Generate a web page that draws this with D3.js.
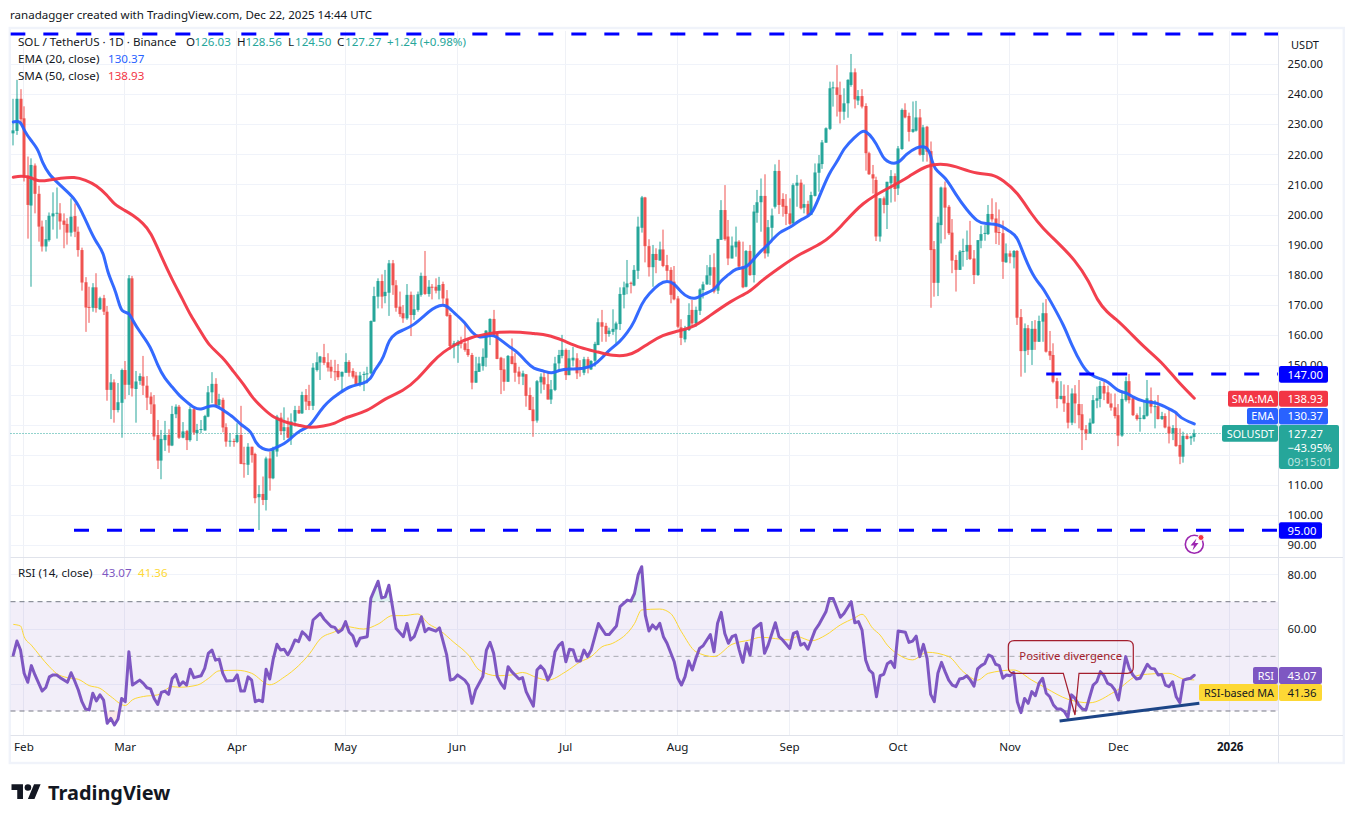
<!DOCTYPE html>
<html><head><meta charset="utf-8">
<script src="https://cdn.jsdelivr.net/npm/d3@7"></script>
<style>
html,body{margin:0;padding:0;background:#fff}
svg{display:block;position:absolute;left:0;top:0}
text{font-family:"Noto Sans",sans-serif;font-size:11.6px;fill:#131722}
</style></head><body>
<svg id="c" width="1354" height="823"></svg>
<script>
const firstDay = "2025-01-29";
const opens = [
227,227.8,238.5,232,213,203,216.3,206.9,196,189.4,
191.5,199.4,200.4,200.4,198,196.9,194,199.5,194.3,188.2,
177.5,169.3,169,175.8,168.5,172.2,167.7,141.7,144.2,135,
137.4,148.3,143.4,178.8,142,144.7,146.1,143.1,139.5,136.9,
126.7,118.2,125,126.7,123.2,133.6,136.1,125.8,128,125,
135.3,127.3,128.4,128.2,132.8,140.9,143.7,136.6,138.4,129.3,
124.6,124.7,124.4,126.7,117.3,116.8,122.8,120.4,106,107.1,
105.1,118.9,112.3,121.2,132.5,128,129.3,125.8,131.2,135,
133.9,140,138,136.4,148.3,150.8,152.6,150.9,149.4,147.9,
148,146.1,147.4,151,148,146.5,143.6,146.8,147,147.2,
164.4,172.7,177.9,172.9,174,183.8,176.5,169.4,167.2,165.5,
173.3,166.6,168.3,173.3,179.6,173.6,176,176,174.7,176.9,
172.1,166.6,156.4,156.4,157.4,157.2,155.3,153.3,144.1,147.7,
149.6,152.4,160.5,165.3,160.5,152.4,148.5,144.4,152.9,150.7,
147.8,146.1,146.9,140,135.2,131.5,144.2,145.9,143.6,138.5,
141.7,150.5,153,155,146.6,151.5,152.2,149.2,147.4,151.9,
148.5,151.4,156.6,164.2,163,160.3,161,161.8,163.6,173.3,
175.8,177.3,176.4,181.3,195.6,205.7,189.5,182.5,186.9,184.7,
188.4,183.2,181.6,177.7,172.1,162.5,158.5,161.6,168.3,163.8,
168,174.9,176.8,179.7,182.5,174.7,191.6,201.5,192.7,185.4,
189.1,191,182.7,176,187.9,179.9,200.6,204.1,206.2,187.1,
195.6,202.6,214.5,205.2,202.9,200.4,197.1,209.6,210.6,202.3,
203.5,199.9,206.2,213.9,216.8,223.9,228.5,242.1,242.3,239.8,
234.2,237,243.1,247.3,237.9,239.4,236.1,220.4,213.4,211.5,
192.7,205.4,203.2,210.4,212.8,208.7,221.8,234.8,232.8,227.5,
227.9,232.3,219.8,229.2,221.1,188.5,177.3,196.5,209,202.6,
194,184.9,181.6,187.7,187.7,189.9,185.4,179.9,191.3,193.6,
193.5,200.2,198.7,194.2,193.8,184.1,187.1,185.8,187.9,165.9,
154.6,162.2,155,162,157.7,164.4,167.2,154.6,153.3,144.6,
138.7,139.7,137.4,130.8,140.5,137,133.6,128.6,127.2,130.6,
138.1,138.7,143,140.9,137.2,135.9,133.3,126.5,138.3,144.6,
138.9,133.3,132.3,132,133.1,138.3,136.1,136.3,132,133,
129.5,127.2,129,123.4,119.5,126.4,125.6,126.03];
const closes = [
228,238.5,231.7,212.6,203.2,216.5,206.9,196,189.4,191.8,
199.6,200.4,200.6,197.7,196.6,194,199.3,194.3,188.2,177.4,
169.1,169,175.8,168.9,172.2,167.7,141.7,144.2,135,137.6,
148.3,143.4,178.8,142.2,144.5,146.3,143.1,139.1,136.9,126.2,
118.2,125.4,126.7,123.2,133.7,136.1,125.8,127.9,125,135.3,
127.5,128.4,128.7,133,140.9,143.7,136.4,138.6,129.2,124.5,
124.8,124.5,126.7,117.1,117,122.8,120,105.7,107.1,105.1,
118.9,112.3,121.7,132.8,128,129.3,125.8,131.2,135,133.9,
140,137.8,136.4,149.1,150.9,152.8,150.7,149.1,147.8,147.7,
145.9,147.7,151,147.4,146.1,143.6,146.5,147,147.2,164.6,
172.9,177.9,172.7,174.3,183.8,176.5,169,166.9,165.5,173.3,
166.6,168.5,173.5,179.6,173.6,176,175.8,174.7,176.6,172.1,
166.3,156.3,157.2,157.7,157,155,153.3,144.1,148,150.5,
152.7,161.4,165.3,160,152,148.3,144.4,153,150.3,147.4,
146.1,147.2,139.7,135,131.3,144.6,146.1,143.5,138.5,141.9,
150.5,153.3,155,146.6,152.2,152.4,147.2,148.9,151.9,148.9,
151.3,157,164.2,162.7,160.3,161.4,162,163.8,173.6,175.8,
177.1,177,181.6,196,205.7,189.5,182.5,186.9,184.9,188.4,
182.9,181.3,173.3,171.8,162.7,159,162,166.6,163.8,168.3,
175.1,176.8,179.8,182.5,174.4,191.9,201.5,191.8,185.4,189.7,
191,182.7,175.8,187.9,179.9,201,204.1,206.2,187.1,195.8,
199.7,214.5,203.2,202.6,200.2,196.9,209.8,210.6,202.1,203.5,
199.9,206.5,214,217,224,228.7,242,242.3,239.8,234.2,
237,244.8,247.3,238.3,239.4,235.9,220.4,213.4,212,192.7,
205.4,203.2,210.9,212.8,208.5,222,234.8,232.3,227.5,228.4,
232.3,219.9,229,220.9,188.2,177.3,197.3,209,202.3,193.8,
184.7,181.6,187.7,187.9,189.9,185.2,179.9,191.5,193.5,193.9,
200.2,198.4,194,194,184.3,187.1,186,187.9,165.7,154.6,
162.2,155,162,157.7,164.6,167.2,154.4,153.1,144.4,138.7,
139.7,137.2,130.8,140.5,137.2,133.3,128.3,127.2,130.8,138.3,
138.9,143,140.5,137.2,135.8,133,126.5,138.7,144.6,138.3,
133.3,132,132.4,133.3,138.9,136.1,136.3,132,133,129.2,
127.2,129,123,119.5,126.4,125.4,126.2,127.27];
const highs = [
238.5,244.8,241.7,236,219.3,218.7,217,209.6,198,198.2,
200.7,207.4,209,203.8,200.4,198.8,205.4,203.7,196,189,
179.2,176,177.2,180.5,172.7,173.3,169.6,147,145.2,144,
148.8,151.3,179.9,179.6,148,147.2,153,146.3,140.9,140,
131.7,128.4,131.4,128.6,136.4,136.9,136.7,131,128.4,136.2,
135.9,130.4,131.7,133.4,143,147.6,145.6,140.4,139.1,130.6,
127.3,125.5,130.6,136.4,122.8,124,122.8,120.8,110,112.9,
119.5,121.2,122.8,133.4,134.1,135.9,132.5,133.9,136.4,136.4,
141.1,142,143.4,150.6,154.2,153,157,153.9,151.7,151.7,
150.3,147.8,153.9,151.6,148.9,147.7,147.7,147.8,149.4,164.8,
176,178.8,180.1,181.6,184.9,184.9,178.2,174.4,169.9,176.9,
174.4,173.3,174.4,180.7,187.9,178.2,176.9,178.8,179.3,177.7,
174.9,167.2,158,158.3,159.4,163.6,158.8,154,152.7,152.7,
155.5,161.6,165.5,168.3,161,152.7,152.2,153.3,158.8,153.9,
149.4,148.1,147,142.5,139.4,145,147.2,148.1,147.7,145,
152.7,155,160,155.5,155,156,153.9,151.6,152.7,152.7,
151.6,157.7,165.5,168.3,164,162.4,168.5,164.4,175.8,177.7,
184.9,177.7,183.2,199.3,206.2,205.9,191.8,189.9,188.8,191,
195,186.6,182.5,182.9,172.9,165.2,163,170.5,171.6,169.4,
175.5,177.7,183.2,186.6,187.1,191.9,204.8,209.8,198.2,192.7,
196,191.5,191,188.2,189.9,203.2,208.2,212,213.4,198.2,
202,216.7,218.2,207.1,206.8,205.4,210.4,213.2,211.7,210,
204.6,207.6,217,219.8,224.8,229,244.2,244.2,249.7,244.2,
242,245,253.4,248.6,241.4,241.7,237,220.9,216.5,212.6,
205.4,206,210.9,214.8,213.7,222.8,235.3,237,233.9,237.6,
237.8,235.1,229.8,229.5,224.3,191.2,199.3,209.3,211,203.2,
198.5,186.6,188.2,192,194.7,197.9,188.2,191.5,196.3,196.5,
203.2,205.4,204.1,201.7,198,190.4,188,188.2,188.2,168.6,
163.8,163.3,164.6,164.9,166.4,170.7,171.9,161.3,157.2,145.7,
144.6,143.5,143.3,142.2,143.3,145,137,130,132.2,140,
142.8,144.6,144.4,143.1,140.5,140.5,137,141.4,146.1,147,
139.4,133.9,136.1,138.3,145,142.5,138.3,140,134.4,133.9,
135.3,130,133.9,128.9,127.8,127,126.5,128.56];
const lows = [
223,226.5,230.4,211,192,176,200.4,191,187.7,187.7,
191,195,192,195,188.8,190,192.7,192.5,186,174.7,
161,164,167.7,167.4,168.3,166.6,138.1,132,130.8,134.2,
125.8,138.6,140,139.5,130.8,143.4,140,135,133.7,125,
115.4,112,121.4,120.8,123,132.3,125.4,125.6,121.7,124.5,
126.7,124.7,127.3,128.2,132.6,137.3,135.9,135.9,127.6,122.8,
122.8,122.8,124,117,112.5,113.4,117.5,104,95.1,103.4,
101.6,108.2,112,119.5,126.7,125,125.6,123.4,129.5,133.7,
133.7,135,135,135,147.8,145,150,147.8,145.6,144.7,
145,141.1,147.4,146.1,145.5,143.3,142.8,141.3,143.9,146.9,
164.4,168.8,168.8,170.5,166.3,173.3,167.7,166,164,165,
159.6,165,167.7,172.7,173.3,172.7,171.8,173.8,171.8,170,
166,155,152.2,150.7,155.5,154.4,152.7,141.9,144.1,147.7,
148.1,149.4,156.6,159.4,151.9,140.3,141.4,144.4,150.2,144.4,
143.6,143.3,136.1,135,126.1,130.8,140.5,141.7,138.5,137,
141.3,147.7,152.2,145,146.6,149.5,145.3,146.1,146.6,147.2,
148.3,149.4,156.6,157.7,157.7,159.4,160,157.2,161.6,168.8,
173.5,173.8,176.2,178.6,194,184.1,179.4,176,180.5,184.7,
182.5,178.2,170.5,171.5,162.2,156.6,157.5,161.3,162.7,162.7,
166.6,172.1,176.6,176.6,173.8,173.6,191.6,191.3,183.2,185.4,
186,181.6,175.5,175.8,179.6,177.4,197.3,194.3,185.4,186,
191.5,202,200.2,199.3,196.5,196.5,196.9,202.6,201.7,200.4,
199.5,199.9,206,207.6,215.2,223.9,228.1,235.9,232.6,230.3,
231.5,232.2,242.5,235.3,236.4,235.3,214.6,213.2,207,191.2,
191,200.4,195.2,204,204.3,206.5,221.5,232,224.3,227.2,
227.6,219.6,217.6,217.6,169,172.7,172.9,190.4,191.8,193.2,
180.5,174.4,181.6,182.7,184.9,184.9,176.9,179.6,188.8,191.3,
193.2,197.6,190.2,189.9,178.6,184,183.8,182.1,163.3,146.1,
147.4,153.3,150,155,157.7,157.7,154.1,151.6,143.9,135.6,
138.5,134.4,128.9,130,130.6,128.9,121.7,125,127.2,130.4,
135.6,135.9,138.3,137,134.8,132.2,123,126.1,137.8,137.2,
133,131.5,127.8,131.9,132.8,133.9,128.9,131.9,131.7,128.9,
123.9,125,122.8,117,117.5,125.2,123.4,124.5];

// EMA(20) read at bar numbers
const emaBars = [0,2,3,5,7,8,10,12,15,17,19,21,23,25,26,28,29,30,32,33,35,38,40,42,44,46,48,50,52,54,56,58,61,63,66,67,69,71,73,75,77,79,82,84,86,88,90,93,97,99,100,102,103,104,106,108,111,114,116,118,120,122,125,127,129,131,133,135,137,140,142,144,147,149,151,154,158,161,163,165,168,170,172,174,176,179,181,183,185,187,189,191,194,196,198,200,203,205,207,210,212,215,218,221,223,226,228,230,233,235,236,238,240,241,244,246,247,250,253,254,255,258,261,264,267,269,273,276,278,280,283,285,287,291,293,296,298,301,303,306,308,310,313,316,319,322,323,327];
const emaValues = [230.8,231.3,227.8,224.5,221.5,217.2,213.2,210.9,207.5,205.2,200.9,195.5,190.6,187.6,180.9,175.6,171.6,167.3,167.6,164.9,161,156.3,149.6,145.3,142.7,139.7,137.7,135.7,135,136.3,136.7,135,132.7,130,128,124,122,121.4,122.7,123.7,125.7,128,129.4,133,136.3,138.7,140.3,143,143.7,145.3,148.3,151.3,154.3,158.3,160.7,161.6,163.3,166.6,168.6,169.9,169.9,167.3,164.3,160.6,159,159.6,160,158.3,156.3,154,151,148.7,148,147,148.3,148.7,148.7,150,152.3,155,157.7,160.7,164.3,170.6,173.7,177.2,178,177.2,174,172.3,171.9,173.6,174.6,178.2,179.9,182.2,182.2,185.2,187.9,191.2,194.2,195.5,198.5,199.5,205.5,214.2,217.2,222.2,225.8,227.8,227.8,225.5,221.2,218.2,216.5,218.2,219.8,222.5,222.8,219.8,214.8,212.8,206.5,201.5,197.5,196.9,196.9,194.2,192.9,185.6,178.2,175.9,171.6,163,156.6,149.6,146.7,145.3,144.7,141,141,139.3,137.7,137.7,136,134.4,132.4,130.37];
// SMA(50) read at bar numbers
const smaBars = [0,2,5,7,10,13,17,20,23,26,28,31,33,36,38,41,44,47,49,52,54,58,61,64,66,69,72,76,79,82,86,89,92,98,103,108,112,116,119,123,127,131,134,141,144,148,152,157,162,166,170,173,176,180,183,188,192,199,204,207,212,218,224,229,235,243,248,253,259,262,267,271,274,278,282,285,289,294,298,300,303,305,309,313,318,322,327];
const smaValues = [212.4,212.9,212.4,210.9,211.5,212.1,212.6,211.5,209.8,206.5,203.2,201.3,199.9,197.1,194.3,186,178.3,171.6,166.6,161,156.6,152.6,147.7,143.3,139.3,135.7,132.4,130.7,130,129,129.7,130.4,132.7,134.4,139,141.3,145.3,151,154.3,157.3,159.3,160.3,161,161,160.4,160,158.3,155.6,154.3,153,153,154.7,157.3,160,161,162.3,165.6,171.6,174.3,177.9,182.2,187.2,190.2,195.6,204.2,209.2,212.5,216.8,216.8,215.5,213.5,213.5,211.5,207.5,199.9,195.5,190.9,184.9,177.6,171.6,167.3,165.6,161,156,151,145,138.93];

// RSI(14) read at bar numbers
const rsiBars = [0,1,2,3,4,5,6,8,9,10,11,12,13,15,16,17,18,19,20,21,22,23,24,25,26,27,28,29,30,31,32,33,35,36,37,38,39,40,41,42,43,44,45,46,47,48,49,50,52,53,54,55,56,57,58,59,61,62,63,64,65,66,67,68,69,70,71,72,73,74,75,76,77,78,79,80,81,82,83,85,86,88,89,90,91,92,93,94,95,96,98,99,101,102,103,104,106,108,109,110,111,113,114,115,117,118,120,121,122,123,125,126,127,128,130,131,132,133,134,135,136,137,138,140,141,142,143,144,145,146,147,148,149,150,151,152,153,154,155,156,157,158,159,160,162,164,165,167,168,170,171,172,173,174,175,176,177,178,179,180,181,183,184,185,186,187,188,189,190,191,193,194,195,196,197,198,199,200,201,202,203,204,205,207,208,209,211,212,213,215,216,217,218,219,220,222,223,225,226,227,229,230,232,233,234,235,236,237,238,239,240,241,242,243,244,245,247,248,249,250,251,252,253,254,255,256,257,258,259,260,261,262,263,264,265,266,267,268,269,270,271,272,273,274,275,276,277,278,279,280,281,282,283,284,285,286,287,288,289,290,291,292,293,294,295,296,297,299,300,301,302,303,304,305,306,308,309,310,311,312,314,315,316,317,318,319,320,321,322,323,324,325,326,327];
const rsiValues = [50.5,55.6,52.3,43.8,40.5,46.6,43.2,37.3,38.6,42.5,43.2,43.2,42.2,40.5,44,41,37.7,33.4,30.7,30.4,36.5,33.7,35.9,34,25.5,27.3,24.9,27.1,34.6,33.4,51.7,39.5,41.3,40.1,38.5,38.1,34.6,32.4,36.8,37.3,36.1,41.9,43.4,39.3,40.7,39.5,45.3,42.2,42.9,45.6,51.1,52.3,48.6,49,43.8,41,41.2,43.2,37.3,37.3,42.5,41.3,33.4,34,33.4,45.3,41.7,49.2,54.4,52.3,52.6,50.5,52.9,56,55.4,59,57.8,56,63.3,65.7,63.7,60.9,60.6,58.8,59.7,62.7,58.8,57.5,53.8,56.6,57.2,71.2,77.5,71.4,71.8,76,60.2,57.2,62,56,57.2,64.5,59,60.2,59.2,60.4,50.5,41.3,41.7,43.2,41.3,39.5,32.8,37.7,42.6,52.3,55.1,51.1,42.6,40.1,38.3,46.2,44.4,41.7,42.2,37.1,34.4,31.8,45,46.5,45,41.3,43.8,51.7,53.9,55.1,48,52.6,52.3,48.3,48.3,52.3,49.9,52.3,62,58,58,61.1,68.2,70.6,70.2,73,79.8,82.8,65.1,59.3,61.5,60,62.1,57.2,54.8,48,42,39.5,42.6,48.3,45,49.3,52.9,53.9,58,51.7,62.1,66.1,58.4,54.8,57.2,57.8,52.3,47.8,54.8,50.5,60,62.1,51.1,54.1,62.3,57.2,56,52.9,58.4,59,54.1,54.8,52.6,59.6,61.5,66.3,71.2,71.2,64.3,65.7,70,62.3,62.7,59.6,48.7,45,43.8,35.2,42.9,43.4,47.3,48.2,45.9,59.3,58.8,55.1,55.6,57.4,49.9,54.4,49.3,36.1,33.4,43.8,47.8,44.4,41.3,39.5,38.9,41.7,42,42.9,41.3,39.1,45.4,46.6,47.4,50.5,49.9,47.1,46.6,42,43.2,42.9,44.1,33.4,29.4,34.6,32.8,37.1,35.6,40.1,42,36.5,35.2,32.2,30.7,30.7,29.8,27.6,35.9,34.6,32.2,30.7,30.4,39.5,40.7,44.4,42.9,40.1,39.5,37.7,34,49.9,45.6,43.2,41.7,42,47.1,45.6,45.4,43.2,43.4,39.5,38.9,40.7,35.2,33,41.3,41.7,42,43.07];
// RSI-based MA read at bar numbers
const rsiMaBars = [0,2,3,5,10,12,15,18,21,24,27,31,33,36,40,44,46,51,54,57,62,66,71,75,79,82,85,89,92,97,101,105,108,112,115,118,122,126,129,134,138,141,145,148,153,157,160,163,166,172,174,179,182,185,189,194,199,204,207,215,217,221,225,229,233,235,238,240,242,245,249,253,259,263,267,270,277,282,286,292,298,305,312,320,324,327];
const rsiMaValues = [61.7,61.1,57.2,54.1,46.2,43.7,42.2,41.6,39.3,38.3,35.3,32,34.1,35.3,35.9,38.9,38.7,39.5,41.9,44.7,44.9,43.8,39.6,42.4,46.6,50.9,56.4,59,60.9,60,61.8,64.9,64.9,65.5,61.9,59.6,55.1,50.5,45,42.9,43.2,44.1,42.2,41.3,44.4,48,49.9,53.5,54.8,62,67,67.3,65.7,59,51.7,49.9,54.4,56,57,56,57.2,55.7,57.8,61.5,64.1,65.4,60.2,57.8,54.1,50.7,48.7,51.5,49.9,44.4,41.3,43.8,45,41.3,38.3,34.3,33,37.1,43.2,43.8,41.7,41.36];

const priceTicks = [250,240,230,220,210,200,190,180,170,160,150,110,100,90];
const priceGrid = [250,240,230,220,210,200,190,180,170,160,150,140,130,120,110,100,90];
const rsiTicks = [80,60];
const rsiGrid = [80,60,40];
const rsiLevels = [70,50,30];
const monthTicks = ["2025-02-01","2025-03-01","2025-04-01","2025-05-01","2025-06-01","2025-07-01","2025-08-01","2025-09-01","2025-10-01","2025-11-01","2025-12-01","2026-01-01"];
const monthLabels = ["Feb","Mar","Apr","May","Jun","Jul","Aug","Sep","Oct","Nov","Dec","2026"];
const keyLevels = [260.07,147,95];
const keyLevelStartBars = [-0.82,286,16.8];
const divergenceBars = [289.7,328.4];
const divergenceRsi = [26.3,32.8];

const UP="#26a69a", DOWN="#ef5350", EMA="#2962ff", SMA="#f23645", RSI="#7e57c2", RMA="#fdd835", KEY="#0000ff";
const svg=d3.select("#c");
const day0=new Date(firstDay+"T00:00:00Z");
const dateOf=i=>new Date(+day0+i*864e5);
const x=d3.scaleUtc().domain([dateOf(0),dateOf(327)]).range([13.3,1194.3]);
const xb=i=>x(dateOf(i));
const y=d3.scaleLinear().domain([100,250]).range([515.3,64.2]);
const ry=d3.scaleLinear().domain([30,70]).range([711,601.7]);
const L=10.5,R=1278.5,T=31,PB=557.5,RB=735.5,B=763;

// frame
svg.append("rect").attr("x",9.8).attr("y",28).attr("width",1334).attr("height",735).attr("fill","#fff").attr("stroke","#f0f3fa").attr("stroke-width",2.4);

const defs=svg.append("defs");
defs.append("clipPath").attr("id","pc").append("rect").attr("x",L).attr("y",T).attr("width",R-L).attr("height",PB-T);
defs.append("clipPath").attr("id","above").append("rect").attr("x",L).attr("y",PB).attr("width",R-L).attr("height",ry(70)-PB);
defs.append("clipPath").attr("id","below").append("rect").attr("x",L).attr("y",ry(30)).attr("width",R-L).attr("height",RB-ry(30));

// grid
const grid=svg.append("g").attr("stroke","#f0f3fa").attr("stroke-width",1);
const gx=d=>Math.round(x(new Date(d+"T00:00:00Z")))-0.5;
grid.selectAll(".v").data(monthTicks).join("line").attr("x1",gx).attr("x2",gx).attr("y1",T).attr("y2",RB).attr("stroke","#eff1f6");
grid.selectAll(".h").data(priceGrid).join("line").attr("x1",L).attr("x2",R).attr("y1",d=>Math.round(y(d))+.5).attr("y2",d=>Math.round(y(d))+.5);
grid.selectAll(".r").data(rsiGrid).join("line").attr("x1",L).attr("x2",R).attr("y1",d=>Math.round(ry(d))+.5).attr("y2",d=>Math.round(ry(d))+.5);

// RSI band
svg.append("rect").attr("x",L).attr("y",ry(70)).attr("width",R-L).attr("height",ry(30)-ry(70)).attr("fill",RSI).attr("fill-opacity",0.1);
svg.append("g").selectAll("line").data(rsiLevels).join("line").attr("x1",L).attr("x2",R).attr("y1",d=>ry(d)).attr("y2",d=>ry(d))
  .attr("stroke",d=>d===50?"#a9abb3":"#787b86").attr("stroke-dasharray","5 4");

// current price dotted line
svg.append("line").attr("x1",L).attr("x2",R).attr("y1",Math.round(y(127.27))+.5).attr("y2",Math.round(y(127.27))+.5).attr("stroke",UP).attr("stroke-dasharray","1 2");

// candles
const bars=d3.range(opens.length);
const cg=svg.append("g").attr("clip-path","url(#pc)");
const col=i=>closes[i]>=opens[i]?UP:DOWN;
const bx=i=>Math.round(xb(i));
cg.selectAll(".w").data(bars).join("rect").attr("x",i=>bx(i)-.5).attr("width",1).attr("y",i=>y(highs[i])).attr("height",i=>y(lows[i])-y(highs[i])).attr("fill",col);
cg.selectAll(".b").data(bars).join("rect").attr("x",i=>bx(i)-1.5).attr("width",3)
  .attr("y",i=>y(Math.max(opens[i],closes[i]))).attr("height",i=>Math.max(1,Math.abs(y(opens[i])-y(closes[i])))).attr("fill",col);

// moving averages
const priceLine=(bs,vs,c,w)=>svg.append("path").attr("clip-path","url(#pc)").attr("d",d3.line().x((d,k)=>xb(bs[k])).y(d=>y(d)).curve(d3.curveBasis)(vs))
  .attr("fill","none").attr("stroke",c).attr("stroke-width",w).attr("stroke-linejoin","round").attr("stroke-linecap","round");
priceLine(emaBars,emaValues,EMA,3).attr("stroke-opacity",.95);
priceLine(smaBars,smaValues,SMA,3).attr("stroke-opacity",.95);

// key levels
svg.append("g").attr("clip-path","url(#pc)").selectAll("line").data(keyLevels).join("line")
  .attr("x1",(d,k)=>xb(keyLevelStartBars[k])).attr("x2",R).attr("y1",d=>y(d)).attr("y2",d=>y(d))
  .attr("stroke",KEY).attr("stroke-width",3).attr("stroke-dasharray","15 18");

// RSI pane
const rsiPts=rsiValues.map((v,k)=>[xb(rsiBars[k]),ry(v)]);
svg.append("path").attr("clip-path","url(#above)").attr("d",d3.area().x(d=>d[0]).y0(ry(70)).y1(d=>d[1])(rsiPts)).attr("fill",UP).attr("fill-opacity",.15);
svg.append("path").attr("clip-path","url(#below)").attr("d",d3.area().x(d=>d[0]).y0(ry(30)).y1(d=>d[1])(rsiPts)).attr("fill",DOWN).attr("fill-opacity",.12);
svg.append("path").attr("d",d3.line().x((d,k)=>xb(rsiMaBars[k])).y(d=>ry(d)).curve(d3.curveMonotoneX)(rsiMaValues)).attr("fill","none").attr("stroke",RMA).attr("stroke-width",1);
svg.append("path").attr("d",d3.line()(rsiPts)).attr("fill","none").attr("stroke",RSI).attr("stroke-width",3).attr("stroke-linejoin","round").attr("stroke-linecap","round");

// positive divergence annotations
svg.append("path").attr("d","M1014.3 640.7H1127.3Q1133.3 640.7 1133.3 646.7V667.3Q1133.3 673.3 1127.3 673.3H1079L1075 715L1063.3 673.3H1014.3Q1008.3 673.3 1008.3 667.3V646.7Q1008.3 640.7 1014.3 640.7Z")
  .attr("fill","none").attr("stroke","#a31d2d").attr("stroke-width",1.2);
svg.append("text").attr("x",1070.7).attr("y",660).attr("text-anchor","middle").style("fill","#a31d2d").style("font-size","11.3px").text("Positive divergence");
svg.append("line").attr("x1",xb(divergenceBars[0])).attr("x2",xb(divergenceBars[1])).attr("y1",ry(divergenceRsi[0])).attr("y2",ry(divergenceRsi[1])).attr("stroke","#1c4587").attr("stroke-width",3);

// separators
const sep=svg.append("g").attr("stroke","#e0e3eb");
sep.append("line").attr("x1",R).attr("x2",R).attr("y1",T).attr("y2",B);
sep.append("line").attr("x1",L).attr("x2",1343).attr("y1",PB).attr("y2",PB);
sep.append("line").attr("x1",L).attr("x2",1343).attr("y1",RB).attr("y2",RB);

// axes
const axisStyle=(size)=>g=>{g.select(".domain").remove();g.selectAll(".tick line").remove();g.selectAll("text").style("font-size",size).style("font-family",'"Noto Sans",sans-serif').attr("fill","#131722");};
svg.append("g").attr("transform",`translate(${R},0)`).call(d3.axisRight(y).tickValues(priceTicks).tickFormat(d3.format(".2f")).tickSize(0).tickPadding(9)).call(axisStyle("11.3px"));
svg.append("g").attr("transform",`translate(${R},0)`).call(d3.axisRight(ry).tickValues(rsiTicks).tickFormat(d3.format(".2f")).tickSize(0).tickPadding(9)).call(axisStyle("11.3px"));
const monthDates=monthTicks.map(d=>new Date(d+"T00:00:00Z"));
svg.append("g").attr("transform",`translate(-0.7,${RB})`).call(d3.axisBottom(x).tickValues(monthDates).tickFormat((d,k)=>monthLabels[k]).tickSize(0).tickPadding(7)).call(axisStyle("11.6px"))
  .selectAll("text").style("font-weight",(d,k)=>k===11?"700":"400");
svg.append("text").attr("x",1305).attr("y",49).attr("text-anchor","middle").style("font-size","11px").text("USDT");

// tags
function box(x0,x1,y0,y1,fill){svg.append("rect").attr("x",x0).attr("y",y0).attr("width",x1-x0).attr("height",y1-y0).attr("rx",2).attr("fill",fill);}
function lab(xp,yp,t,c,anchor,size){svg.append("text").attr("x",xp).attr("y",yp).attr("text-anchor",anchor||"start").style("fill",c).style("font-size",size||"11.3px").text(t);}
box(1279,1328,366,382.7,KEY); lab(1287.5,378.5,"147.00","#fff");
box(1228,1278,390.7,406.7,SMA); lab(1274,403,"SMA:MA","#fff","end","10.8px");
box(1279,1328,390.7,406.7,SMA); lab(1287.5,403,"138.93","#fff");
box(1247,1278,408,424.5,EMA); lab(1274,420,"EMA","#fff","end","10.8px");
box(1279,1328,408,424.5,EMA); lab(1287.5,420,"130.37","#fff");
box(1222,1278,425,441.7,UP); lab(1274,437.5,"SOLUSDT","#fff","end","10.8px");
box(1279,1339,425,469,UP); lab(1287.5,437.5,"127.27","#fff"); lab(1287.5,451.8,"−43.95%","#fff"); lab(1287.5,466,"09:15:01","#bfe5e1");
box(1279,1322,522.3,538.7,KEY); lab(1287.5,534.8,"95.00","#fff");
box(1253,1278,667,684,RSI); lab(1274,679.5,"RSI","#fff","end","10.8px");
box(1279,1322,667,684,RSI); lab(1287.5,679.5,"43.07","#fff");
box(1199,1278,684,701,RMA); lab(1274,696.5,"RSI-based MA","#131722","end","10.8px");
box(1279,1322,684,701,RMA); lab(1287.5,696.5,"41.36","#131722");

// flash icon
svg.append("circle").attr("cx",1194.3).attr("cy",544.3).attr("r",9).attr("fill","#fff").attr("stroke","#9c27b0").attr("stroke-width",1.6);
svg.append("path").attr("d","M1196.5 538.5L1190.5 545.5H1194L1192.5 550.5L1198.5 543H1195Z").attr("fill","#9c27b0");
svg.append("circle").attr("cx",1201).attr("cy",537.5).attr("r",3).attr("fill","#f23645").attr("stroke","#fff");

// header and legends
lab(10,19,"ranadagger created with TradingView.com, Dec 22, 2025 14:44 UTC","#131722","start","11.55px");
lab(18,46,"SOL / TetherUS · 1D · Binance","#131722","start","11.6px");
[[186,"O"],[237,"H"],[288,"L"],[337,"C"]].forEach(d=>lab(d[0],46,d[1],"#131722","start","11.6px"));
[[194.5,"126.03"],[245.5,"128.56"],[295,"124.50"],[345,"127.27"],[387,"+1.24 (+0.98%)"]].forEach(d=>lab(d[0],46,d[1],UP,"start","11.6px"));
lab(18,63,"EMA (20, close)","#131722","start","11.6px"); lab(108,63,"130.37",EMA,"start","11.6px");
lab(18,80,"SMA (50, close)","#131722","start","11.6px"); lab(108,80,"138.93",SMA,"start","11.6px");
lab(18,577,"RSI (14, close)","#131722","start","11.6px"); lab(102,577,"43.07",RSI,"start","11.6px"); lab(138,577,"41.36",RMA,"start","11.6px");

// logo
const lg=svg.append("g").attr("transform","translate(11.5,781) scale(0.82)").attr("fill","#131722");
lg.append("path").attr("d","M14 22H7V11H0V4h14v18zM28 22h-8l7.5-18h8L28 22z");
lg.append("circle").attr("cx",20).attr("cy",8).attr("r",4);
svg.append("text").attr("x",48).attr("y",800).style("font-size","19.9px").style("font-weight","700").style("fill","#131722").text("TradingView");
</script>
</body></html>
